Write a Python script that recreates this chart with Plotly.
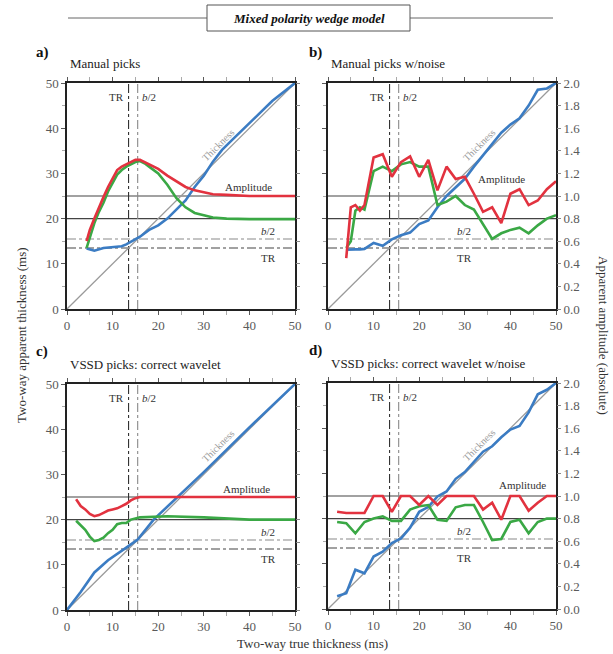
import plotly.graph_objects as go

# ---------------- data ----------------
x_ref = [0, 50]
y_ref = [0, 50]
AMP_TOP = 25    # reference amplitude lines (left-axis units)
AMP_BOT = 20
TR = 13.5
B2 = 15.5

# Panel a: manual picks
a_thick_x = [4.3, 6, 8, 10, 12, 13, 14, 16, 18, 20, 22, 24, 26, 28, 30, 32, 34, 36, 40, 45, 50]
a_thick_y = [13.4, 12.9, 13.5, 13.7, 13.9, 14.3, 14.9, 16.0, 17.5, 18.5, 20.0, 21.9, 24.0, 27.0, 29.5, 32.6, 35.2, 37.2, 41.2, 46.0, 50.0]
a_amp_x = [4.3, 5, 6, 7, 8, 9, 10, 11, 12, 13, 14, 15, 16, 17, 18, 20, 22, 24, 26, 28, 30, 32, 35, 40, 50]
a_red = [0.60, 0.70, 0.80, 0.90, 0.99, 1.08, 1.16, 1.23, 1.26, 1.28, 1.30, 1.32, 1.32, 1.30, 1.28, 1.24, 1.18, 1.13, 1.08, 1.05, 1.03, 1.015, 1.01, 1.0, 1.0]
a_green = [0.54, 0.64, 0.76, 0.86, 0.94, 1.04, 1.12, 1.19, 1.23, 1.26, 1.28, 1.30, 1.31, 1.29, 1.26, 1.20, 1.10, 0.98, 0.90, 0.85, 0.83, 0.81, 0.80, 0.795, 0.795]

# Panel b: manual picks with noise
b_x = [4, 5, 6, 7, 8, 10, 12, 14, 16, 18, 20, 22, 24, 26, 28, 30, 32, 34, 36, 38, 40, 42, 44, 46, 48, 50]
b_thick = [13.1, 13.2, 13.2, 13.2, 13.3, 14.6, 14.0, 15.4, 16.3, 16.9, 18.8, 19.6, 22.5, 25.0, 27.0, 28.8, 31.5, 34.0, 36.5, 39.0, 40.8, 42.2, 45.0, 48.5, 48.8, 50.0]
b_red = [0.45, 0.90, 0.92, 0.87, 0.92, 1.34, 1.37, 1.17, 1.30, 1.35, 1.17, 1.32, 1.05, 1.26, 1.15, 1.17, 1.02, 0.86, 0.90, 0.76, 1.02, 1.06, 0.92, 0.96, 1.06, 1.13]
b_green = [0.54, 0.60, 0.87, 0.90, 0.88, 1.22, 1.26, 1.22, 1.28, 1.30, 1.26, 1.26, 0.92, 0.95, 1.00, 0.92, 0.88, 0.75, 0.62, 0.67, 0.70, 0.72, 0.67, 0.74, 0.80, 0.83]

# Panel c: VSSD picks, correct wavelet
c_thick_x = [0, 3, 6, 9, 13, 15.5, 19, 30, 40, 50]
c_thick_y = [0, 4.0, 8.3, 11.0, 13.8, 15.6, 20.0, 30.5, 40.4, 50.0]
c_amp_x = [2, 3, 4, 5, 6, 7, 8, 9, 10, 11, 12, 13, 14, 15, 16, 22, 30, 40, 50]
c_red = [0.98, 0.92, 0.89, 0.85, 0.83, 0.84, 0.86, 0.88, 0.89, 0.90, 0.92, 0.94, 0.97, 0.99, 1.0, 1.0, 1.0, 1.0, 1.0]
c_green = [0.79, 0.75, 0.71, 0.65, 0.61, 0.62, 0.64, 0.68, 0.71, 0.76, 0.77, 0.77, 0.80, 0.81, 0.82, 0.83, 0.82, 0.80, 0.80]

# Panel d: VSSD picks, correct wavelet with noise
d_x = [2, 4, 6, 8, 10, 12, 14, 16, 18, 20, 22, 24, 26, 28, 30, 32, 34, 36, 38, 40, 42, 44, 46, 48, 50]
d_thick = [2.8, 3.5, 8.7, 7.9, 11.6, 12.7, 14.6, 15.6, 18.0, 21.5, 22.6, 24.9, 26.0, 28.8, 30.3, 32.6, 34.8, 36.0, 38.0, 39.7, 40.5, 43.5, 47.5, 48.5, 50.0]
d_red = [0.86, 0.85, 0.85, 0.85, 1.0, 1.0, 0.86, 1.0, 1.0, 0.92, 1.0, 0.92, 1.0, 1.0, 1.0, 1.0, 0.88, 0.94, 0.79, 1.0, 1.0, 0.87, 0.94, 1.0, 1.0]
d_green = [0.77, 0.76, 0.67, 0.77, 0.80, 0.82, 0.78, 0.78, 0.88, 0.91, 0.92, 0.79, 0.78, 0.90, 0.92, 0.92, 0.77, 0.61, 0.62, 0.77, 0.79, 0.67, 0.77, 0.80, 0.80]

x_ticks = [0, 10, 20, 30, 40, 50]
y_ticks = [0, 10, 20, 30, 40, 50]
amp_ticks = [0.0, 0.2, 0.4, 0.6, 0.8, 1.0, 1.2, 1.4, 1.6, 1.8, 2.0]

panel_titles = ["Manual picks", "Manual picks w/noise",
                "VSSD picks: correct wavelet", "VSSD picks: correct wavelet w/noise"]
panel_letters = ["a)", "b)", "c)", "d)"]

BLUE = "#3b7cc3"
RED = "#e2323f"
GREEN = "#3aa845"
FONT = "Liberation Serif, Times New Roman, serif"
TICKC = "#5a5a5a"

W, H = 613, 654
def fx(px): return px / W
def fy(py): return 1 - py / H

# panel frames in pixels: (left, right, top, bottom)
frames = [(67, 295, 83, 309), (328, 556, 83, 309), (67, 295, 384, 610), (328, 556, 383, 609)]

fig = go.Figure()

panels = [
    (a_thick_x, a_thick_y, a_amp_x, a_red, a_green, a_amp_x),
    (b_x, b_thick, b_x, b_red, b_green, b_x),
    (c_thick_x, c_thick_y, c_amp_x, c_red, c_green, c_amp_x),
    (d_x, d_thick, d_x, d_red, d_green, d_x),
]

amp_lbl = [(39.8, 26.9), (38.1, 28.7), (39.4, 26.8), (42.6, 27.4)]
side_lbl_x = [44.1, 29.9, 44.1, 29.9]

shapes = []
annotations = []
for i, (tx, ty, ax_, red, green, gx) in enumerate(panels):
    n = i + 1
    xa = "x" if n == 1 else f"x{n}"
    ya = "y" if n == 1 else f"y{n}"
    ya2 = f"y{n+4}"
    fig.add_trace(go.Scatter(x=x_ref, y=y_ref, mode="lines", line=dict(color="#9a9a9a", width=1.3),
                             xaxis=xa, yaxis=ya, showlegend=False, hoverinfo="skip"))
    fig.add_trace(go.Scatter(x=gx, y=green, mode="lines", line=dict(color=GREEN, width=2.6),
                             xaxis=xa, yaxis=ya2, showlegend=False))
    fig.add_trace(go.Scatter(x=ax_, y=red, mode="lines", line=dict(color=RED, width=2.6),
                             xaxis=xa, yaxis=ya2, showlegend=False))
    fig.add_trace(go.Scatter(x=tx, y=ty, mode="lines", line=dict(color=BLUE, width=2.6),
                             xaxis=xa, yaxis=ya, showlegend=False))

    xr = xa
    yr = ya
    for yv in (AMP_TOP, AMP_BOT):
        shapes.append(dict(type="line", xref=xr, yref=yr, x0=0, x1=50, y0=yv, y1=yv,
                           line=dict(color="#444444", width=1.1), layer="below"))
    shapes.append(dict(type="line", xref=xr, yref=yr, x0=0, x1=50, y0=B2, y1=B2,
                       line=dict(color="#8a8a8a", width=1.1, dash="dashdot"), layer="below"))
    shapes.append(dict(type="line", xref=xr, yref=yr, x0=0, x1=50, y0=TR, y1=TR,
                       line=dict(color="#444444", width=1.1, dash="dashdot"), layer="below"))
    shapes.append(dict(type="line", xref=xr, yref=yr, x0=TR, x1=TR, y0=0, y1=50,
                       line=dict(color="#333333", width=1.1, dash="dashdot"), layer="below"))
    shapes.append(dict(type="line", xref=xr, yref=yr, x0=B2, x1=B2, y0=0, y1=50,
                       line=dict(color="#8a8a8a", width=1.1, dash="dashdot"), layer="below"))

    lab_font = dict(family=FONT, size=11, color="#333333")
    annotations += [
        dict(x=TR - 0.6, y=47, xref=xr, yref=yr, text="TR", showarrow=False, xanchor="right", font=lab_font),
        dict(x=B2 + 0.6, y=47, xref=xr, yref=yr, text="<i>b</i>/2", showarrow=False, xanchor="left", font=lab_font),
        dict(x=amp_lbl[i][0], y=amp_lbl[i][1], xref=xr, yref=yr, text="Amplitude", showarrow=False, font=lab_font),
        dict(x=side_lbl_x[i], y=17.2, xref=xr, yref=yr, text="<i>b</i>/2", showarrow=False, font=lab_font),
        dict(x=side_lbl_x[i], y=11.2, xref=xr, yref=yr, text="TR", showarrow=False, font=lab_font),
        dict(x=33.3, y=36.3, xref=xr, yref=yr, text="Thickness", showarrow=False, textangle=-45,
             font=dict(family=FONT, size=10, color="#999999")),
    ]

    L, R, T, B = frames[i]
    annotations.append(dict(x=fx(L + 1), y=fy(T - 10), xref="paper", yref="paper", text=panel_titles[i],
                            showarrow=False, xanchor="left", yanchor="bottom",
                            font=dict(family=FONT, size=13, color="#222222")))
    lx = 34 if i in (0, 2) else 307
    annotations.append(dict(x=fx(lx), y=fy(T - 31) if i < 2 else fy(T - 33), xref="paper", yref="paper",
                            text="<b>" + panel_letters[i] + "</b>", showarrow=False,
                            xanchor="left", yanchor="middle",
                            font=dict(family=FONT, size=15, color="#111111")))

common_x = dict(range=[0, 50], tickvals=x_ticks, ticks="outside", ticklen=4, tickcolor=TICKC,
                showline=True, linecolor="#222222", linewidth=1.5, mirror="allticks",
                showgrid=False, zeroline=False,
                minor=dict(dtick=5, tick0=0, ticks="outside", ticklen=3, tickcolor="#aaaaaa"),
                tickfont=dict(family=FONT, size=13, color=TICKC))
common_y = dict(range=[0, 50], tickvals=y_ticks, ticks="outside", ticklen=4, tickcolor=TICKC,
                showline=True, linecolor="#222222", linewidth=1.5, mirror=True,
                showgrid=False, zeroline=False,
                minor=dict(dtick=5, tick0=0, ticks="outside", ticklen=3, tickcolor="#aaaaaa"),
                tickfont=dict(family=FONT, size=13, color=TICKC))
common_y2 = dict(range=[0, 2], tickvals=amp_ticks, ticks="outside", ticklen=4, tickcolor="#888888",
                 side="right", showgrid=False, zeroline=False, showline=False,
                 tickformat=".1f",
                 tickfont=dict(family=FONT, size=13, color=TICKC))

layout = dict(width=W, height=H, margin=dict(l=0, r=0, t=0, b=0, autoexpand=False),
              paper_bgcolor="white", plot_bgcolor="white", showlegend=False)
for i in range(4):
    n = i + 1
    L, R, T, B = frames[i]
    xk = "xaxis" if n == 1 else f"xaxis{n}"
    yk = "yaxis" if n == 1 else f"yaxis{n}"
    y2k = f"yaxis{n+4}"
    xa_name = "x" if n == 1 else f"x{n}"
    ya_name = "y" if n == 1 else f"y{n}"
    layout[xk] = dict(common_x, domain=[fx(L), fx(R)], anchor=ya_name, automargin=False)
    layout[yk] = dict(common_y, domain=[fy(B), fy(T)], anchor=xa_name, automargin=False,
                      showticklabels=(i in (0, 2)))
    layout[y2k] = dict(common_y2, overlaying=ya_name, anchor=xa_name, automargin=False,
                       showticklabels=(i in (1, 3)))

fig.update_layout(**layout)

annotations += [
    dict(x=fx(21), y=fy(335), xref="paper", yref="paper", text="Two-way apparent thickness (ms)",
         textangle=-90, showarrow=False, xanchor="center", yanchor="middle",
         font=dict(family=FONT, size=13, color="#333333")),
    dict(x=fx(604), y=fy(335), xref="paper", yref="paper", text="Apparent amplitude (absolute)",
         textangle=90, showarrow=False, xanchor="center", yanchor="middle",
         font=dict(family=FONT, size=13, color="#333333")),
    dict(x=fx(312), y=fy(643), xref="paper", yref="paper", text="Two-way true thickness (ms)",
         showarrow=False, xanchor="center", yanchor="middle",
         font=dict(family=FONT, size=13, color="#333333")),
    dict(x=fx(309), y=fy(18), xref="paper", yref="paper", text="<b><i>Mixed polarity wedge model</i></b>",
         showarrow=False, xanchor="center", yanchor="middle",
         font=dict(family=FONT, size=13, color="#111111")),
]

shapes += [
    dict(type="line", xref="paper", yref="paper", x0=fx(68), x1=fx(207), y0=fy(18), y1=fy(18),
         line=dict(color="#666666", width=1)),
    dict(type="line", xref="paper", yref="paper", x0=fx(410), x1=fx(553), y0=fy(18), y1=fy(18),
         line=dict(color="#666666", width=1)),
    dict(type="rect", xref="paper", yref="paper", x0=fx(207), x1=fx(410), y0=fy(31), y1=fy(5),
         line=dict(color="#555555", width=1)),
]

fig.update_layout(shapes=shapes, annotations=annotations)
fig.write_html("out.html", config={"displayModeBar": False},
               post_script="document.body.style.margin='0px';document.body.style.overflow='hidden';")
